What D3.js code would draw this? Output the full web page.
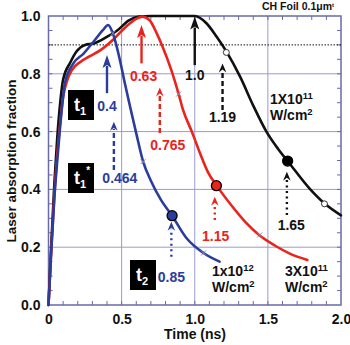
<!DOCTYPE html>
<html>
<head>
<meta charset="utf-8">
<script src="https://cdn.jsdelivr.net/npm/d3@7/dist/d3.min.js"></script>
<style>
  html, body { margin: 0; padding: 0; background: #fff; }
  svg { display: block; font-family: "Liberation Sans", Arial, Helvetica, sans-serif; font-weight: bold; }
</style>
</head>
<body>
<svg id="chart" width="350" height="345"></svg>
<script>
// ---------- data ----------
const xTicks = [0, 0.5, 1.0, 1.5, 2.0];
const xTickLabels = ["0", "0.5", "1.0", "1.5", "2.0"];
const yTicks = [0, 0.2, 0.4, 0.6, 0.8, 1.0];
const yTickLabels = ["0.0", "0.2", "0.4", "0.6", "0.8", "1.0"];

// 1X10^11 W/cm2 (black)
const blackTime = [0, 0.02, 0.04, 0.06, 0.08, 0.10, 0.15, 0.19, 0.25, 0.31, 0.40, 0.47, 0.55, 0.62, 0.70, 0.85, 1.00, 1.08, 1.15, 1.22, 1.31, 1.40, 1.49, 1.57, 1.64, 1.79, 1.89, 2.00];
const blackAbs  = [0, 0.22, 0.42, 0.58, 0.70, 0.78, 0.84, 0.876, 0.90, 0.905, 0.928, 0.95, 0.985, 0.998, 1.0, 1.0, 1.0, 0.975, 0.928, 0.874, 0.79, 0.69, 0.60, 0.54, 0.495, 0.40, 0.35, 0.31];
// 3X10^11 W/cm2 (red)
const redTime = [0, 0.02, 0.04, 0.06, 0.08, 0.10, 0.13, 0.16, 0.22, 0.28, 0.35, 0.44, 0.53, 0.60, 0.64, 0.69, 0.74, 0.78, 0.84, 0.89, 0.92, 0.98, 1.04, 1.09, 1.15, 1.25, 1.35, 1.44, 1.55, 1.65, 1.77];
const redAbs  = [0, 0.20, 0.38, 0.52, 0.63, 0.72, 0.78, 0.813, 0.842, 0.86, 0.88, 0.917, 0.963, 0.99, 0.998, 0.986, 0.94, 0.894, 0.813, 0.73, 0.675, 0.60, 0.52, 0.46, 0.413, 0.345, 0.285, 0.242, 0.205, 0.178, 0.156];
// 1x10^12 W/cm2 (blue)
const blueTime = [0, 0.02, 0.04, 0.06, 0.08, 0.10, 0.113, 0.17, 0.24, 0.317, 0.37, 0.408, 0.44, 0.488, 0.522, 0.556, 0.60, 0.647, 0.70, 0.77, 0.845, 0.943, 1.06, 1.17];
const blueAbs  = [0, 0.20, 0.37, 0.50, 0.62, 0.72, 0.77, 0.836, 0.87, 0.917, 0.95, 0.969, 0.94, 0.848, 0.767, 0.69, 0.594, 0.496, 0.43, 0.363, 0.309, 0.232, 0.18, 0.15];

// filled markers (big dots)
const dotTime = [0.845, 1.148, 1.635];
const dotAbs  = [0.309, 0.413, 0.498];
const dotSeries = ["blue", "red", "black"];
// small x marks
const crossTime = [0.647, 1.06, 0.89, 1.444, 0.44];
const crossAbs  = [0.496, 0.18, 0.73, 0.242, 0.94];
const crossSeries = ["blue", "blue", "red", "red", "blue"];
// open circles
const ringTime = [1.216, 1.887];
const ringAbs  = [0.874, 0.35];

// arrows: time, tip value, base value, label, label time, label value
const arrowTime   = [0.40, 0.447, 0.84, 0.636, 0.761, 1.137, 1.0, 1.19, 1.63];
const arrowTip    = [0.865, 0.634, 0.288, 0.969, 0.753, 0.375, 0.998, 0.836, 0.461];
const arrowBase   = [0.733, 0.467, 0.167, 0.836, 0.595, 0.294, 0.83, 0.675, 0.311];
const arrowLabel  = ["0.4", "0.464", "0.85", "0.63", "0.765", "1.15", "1.0", "1.19", "1.65"];
const arrowLabelT = [0.40, 0.488, 0.84, 0.65, 0.816, 1.143, 1.0, 1.19, 1.66];
const arrowLabelV = [0.689, 0.44, 0.097, 0.792, 0.554, 0.239, 0.796, 0.65, 0.277];
const arrowSeries = ["blue", "blue", "blue", "red", "red", "red", "black", "black", "black"];
const arrowKind   = ["solid", "dashed", "dotted", "solid", "dashed", "dotted", "solid", "dashed", "dotted"];

const thresholdValue = 0.9;

// ---------- styles ----------
const colors = { black: "#111111", red: "#e8241c", blue: "#2b3d9c" };

const svg = d3.select("#chart");
const x = d3.scaleLinear().domain([0, 2]).range([48.5, 341]);
const y = d3.scaleLinear().domain([0, 1]).range([305, 16]);

// grid
const grid = svg.append("g");
grid.selectAll("line.gx").data(xTicks.slice(1, -1)).join("line")
  .attr("x1", d => x(d)).attr("x2", d => x(d)).attr("y1", y(0)).attr("y2", y(1))
  .attr("stroke", "#9a9ad0").attr("stroke-width", 1);
grid.selectAll("line.gy").data(yTicks.slice(1, -1)).join("line")
  .attr("x1", x(0)).attr("x2", x(2)).attr("y1", d => y(d)).attr("y2", d => y(d))
  .attr("stroke", "#9a9ad0").attr("stroke-width", 1);

// minor ticks (inward) on all sides
const minorX = d3.range(1, 20).map(i => i / 10);
const minorY = d3.range(1, 20).map(i => i / 20);
const tickCol = "#6a6aa8";
svg.append("g").selectAll("line").data(minorX).join("line")
  .attr("x1", d => x(d)).attr("x2", d => x(d)).attr("y1", y(0)).attr("y2", y(0) - 4)
  .attr("stroke", tickCol);
svg.append("g").selectAll("line").data(minorX).join("line")
  .attr("x1", d => x(d)).attr("x2", d => x(d)).attr("y1", y(1)).attr("y2", y(1) + 4)
  .attr("stroke", tickCol);
svg.append("g").selectAll("line").data(minorY).join("line")
  .attr("x1", x(0)).attr("x2", x(0) + 4).attr("y1", d => y(d)).attr("y2", d => y(d))
  .attr("stroke", tickCol);
svg.append("g").selectAll("line").data(minorY).join("line")
  .attr("x1", x(2)).attr("x2", x(2) - 4).attr("y1", d => y(d)).attr("y2", d => y(d))
  .attr("stroke", tickCol);

// frame
svg.append("rect").attr("x", x(0)).attr("y", y(1)).attr("width", x(2) - x(0)).attr("height", y(0) - y(1))
  .attr("fill", "none").attr("stroke", "#6a6aa8").attr("stroke-width", 1.5);

// axes labels via d3 axes
const xAxis = d3.axisBottom(x).tickValues(xTicks).tickFormat((d, i) => xTickLabels[i]).tickSize(0).tickPadding(9);
const gx = svg.append("g").attr("transform", `translate(0,${y(0)})`).call(xAxis);
gx.select(".domain").remove();
gx.selectAll("text").attr("font-size", 14).attr("font-weight", "bold").attr("fill", "#111")
  .attr("font-family", "Liberation Sans, Arial, sans-serif");

const yAxis = d3.axisLeft(y).tickValues(yTicks).tickFormat((d, i) => yTickLabels[i]).tickSize(0).tickPadding(8);
const gy = svg.append("g").attr("transform", `translate(${x(0)},0)`).call(yAxis);
gy.select(".domain").remove();
gy.selectAll("text").attr("font-size", 14).attr("font-weight", "bold").attr("fill", "#111")
  .attr("font-family", "Liberation Sans, Arial, sans-serif");

svg.append("text").attr("x", 195).attr("y", 339).attr("text-anchor", "middle")
  .attr("font-size", 14).attr("fill", "#111").text("Time (ns)");
svg.append("text").attr("transform", `translate(16,161) rotate(-90)`).attr("text-anchor", "middle")
  .attr("font-size", 13.5).attr("fill", "#111").text("Laser absorption fraction");

// title
const tt = svg.append("text").attr("x", 262).attr("y", 10).attr("font-size", 10.5).attr("fill", "#111");
tt.append("tspan").text("CH Foil 0.1\u03bcm");
tt.append("tspan").attr("dy", -3).attr("font-size", 6).text("t");

// threshold dotted line
svg.append("line").attr("x1", x(0)).attr("x2", x(2)).attr("y1", y(thresholdValue)).attr("y2", y(thresholdValue))
  .attr("stroke", "#111").attr("stroke-width", 1).attr("stroke-dasharray", "1.5,1.5");

// curves
const line = d3.line().x(d => x(d[0])).y(d => y(d[1])).curve(d3.curveMonotoneX);
const series = [
  { key: "black", t: blackTime, v: blackAbs },
  { key: "red", t: redTime, v: redAbs },
  { key: "blue", t: blueTime, v: blueAbs }
];
series.forEach(s => {
  svg.append("path").datum(s.t.map((t, i) => [t, s.v[i]]))
    .attr("d", line).attr("fill", "none").attr("stroke", colors[s.key])
    .attr("stroke-width", 2.6).attr("stroke-linejoin", "round").attr("stroke-linecap", "round");
});

// small cross marks
crossTime.forEach((t, i) => {
  const cx = x(t), cy = y(crossAbs[i]);
  svg.append("path").attr("d", `M${cx-2.5},${cy-2.5}L${cx+2.5},${cy+2.5}M${cx-2.5},${cy+2.5}L${cx+2.5},${cy-2.5}`)
    .attr("stroke", "#8888aa").attr("stroke-width", 1);
});
// open rings
svg.append("g").selectAll("circle").data(ringTime).join("circle")
  .attr("cx", d => x(d)).attr("cy", (d, i) => y(ringAbs[i])).attr("r", 3)
  .attr("fill", "#fff").attr("stroke", "#333").attr("stroke-width", 1);
// big dots
svg.append("g").selectAll("circle").data(dotTime).join("circle")
  .attr("cx", d => x(d)).attr("cy", (d, i) => y(dotAbs[i])).attr("r", 5)
  .attr("fill", (d, i) => dotSeries[i] === "black" ? "#000" : colors[dotSeries[i]])
  .attr("stroke", "#000").attr("stroke-width", 1.3);

// arrows
arrowTime.forEach((t, i) => {
  const col = colors[arrowSeries[i]];
  const kind = arrowKind[i];
  const ax = x(t), ty = y(arrowTip[i]), by = y(arrowBase[i]);
  const headLen = kind === "solid" ? 13 : 9;
  const headW = kind === "solid" ? 4.5 : 3.8;
  const shaft = svg.append("line").attr("x1", ax).attr("x2", ax).attr("y1", by).attr("y2", ty + headLen - 2)
    .attr("stroke", col).attr("stroke-width", 2.4);
  if (kind === "dashed") shaft.attr("stroke-dasharray", "5,3");
  if (kind === "dotted") shaft.attr("stroke-dasharray", "2,3.5");
  svg.append("path")
    .attr("d", `M${ax},${ty}L${ax - headW},${ty + headLen}L${ax},${ty + headLen - 3}L${ax + headW},${ty + headLen}Z`)
    .attr("fill", col);
  svg.append("text").attr("x", x(arrowLabelT[i])).attr("y", y(arrowLabelV[i]) + 5)
    .attr("text-anchor", "middle").attr("font-size", 14).attr("fill", col).text(arrowLabel[i]);
});

// boxed t labels
const boxes = [
  { x0: 68, y0: 90, sub: "1", star: false },
  { x0: 68, y0: 163, sub: "1", star: true },
  { x0: 130, y0: 260, sub: "2", star: false }
];
boxes.forEach(b => {
  svg.append("rect").attr("x", b.x0).attr("y", b.y0).attr("width", 26).attr("height", 30).attr("fill", "#000");
  const tx = svg.append("text").attr("x", b.x0 + 6).attr("y", b.y0 + 21).attr("fill", "#fff").attr("font-size", 18);
  tx.append("tspan").text("t");
  tx.append("tspan").attr("dy", 4).attr("font-size", 11).text(b.sub);
  if (b.star) tx.append("tspan").attr("dy", -14).attr("font-size", 10).text("*");
});

// intensity labels
function intensity(xp, yp, mant, exp) {
  const t1 = svg.append("text").attr("x", xp).attr("y", yp).attr("font-size", 14).attr("fill", "#111");
  t1.append("tspan").text(mant);
  t1.append("tspan").attr("dy", -5).attr("font-size", 9.5).text(exp);
  const t2 = svg.append("text").attr("x", xp).attr("y", yp + 16).attr("font-size", 14).attr("fill", "#111");
  t2.append("tspan").text("W/cm");
  t2.append("tspan").attr("dy", -5).attr("font-size", 9.5).text("2");
}
intensity(270, 104, "1X10", "11");
intensity(212, 276, "1x10", "12");
intensity(285, 276, "3X10", "11");
</script>
</body>
</html>
